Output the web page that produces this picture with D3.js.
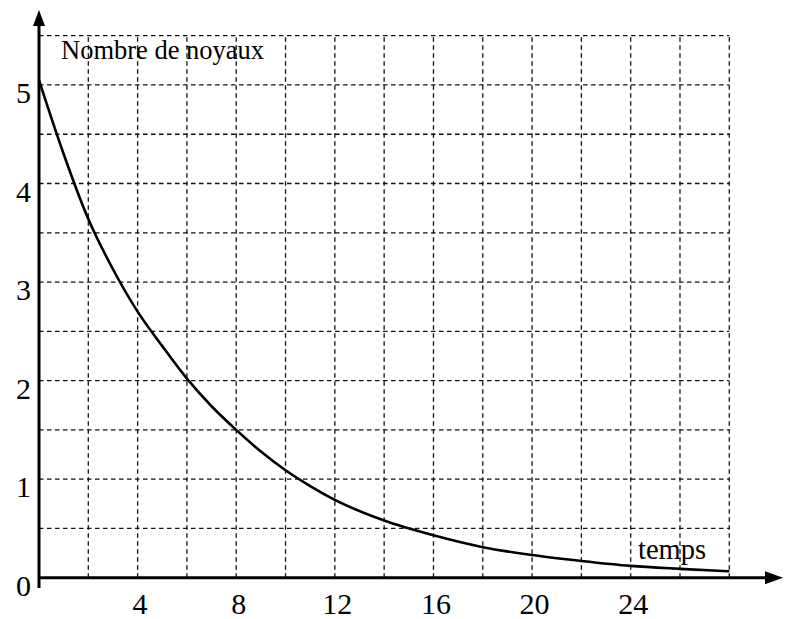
<!DOCTYPE html>
<html>
<head>
<meta charset="utf-8">
<script src="https://cdn.jsdelivr.net/npm/d3@7"></script>
<style>
  html, body { margin: 0; padding: 0; background: #fff; }
  svg { display: block; }
</style>
</head>
<body>
<svg id="chart" width="785" height="619"></svg>
<script>
// ---- data ----
const times  = [0, 1, 2, 3, 4, 5, 6, 7, 8, 9, 10, 11, 12, 14, 16, 18, 20, 22, 24, 26, 28];
const nuclei = [5.05, 4.3, 3.64, 3.13, 2.70, 2.35, 2.02, 1.74, 1.50, 1.28, 1.09, 0.93, 0.79, 0.58, 0.43, 0.31, 0.23, 0.17, 0.12, 0.09, 0.065];
const xTickLabels = [4, 8, 12, 16, 20, 24];
const yTickLabels = [0, 1, 2, 3, 4, 5];
const xGrid = [2, 4, 6, 8, 10, 12, 14, 16, 18, 20, 22, 24, 26, 28];
const yGrid = [0.5, 1, 1.5, 2, 2.5, 3, 3.5, 4, 4.5, 5, 5.5];
const yTitle = "Nombre de noyaux";
const xTitle = "temps";

const svg = d3.select("#chart");
const font = "'Liberation Serif', 'Times New Roman', serif";

const x = d3.scaleLinear().domain([0, 28]).range([39, 729.3]);
const y = d3.scaleLinear().domain([0, 5.5]).range([577.7, 35.7]);

// grid
const grid = svg.append("g")
  .attr("stroke", "#111")
  .attr("stroke-width", 1.3)
  .attr("stroke-dasharray", "4.5,3.5")
  .attr("fill", "none");
grid.selectAll("line.h").data(yGrid).join("line")
  .attr("class", "h")
  .attr("x1", x(0)).attr("x2", x(28))
  .attr("y1", d => y(d)).attr("y2", d => y(d));
grid.selectAll("line.v").data(xGrid).join("line")
  .attr("class", "v")
  .attr("x1", d => x(d)).attr("x2", d => x(d))
  .attr("y1", y(0)).attr("y2", y(5.5));

// titles
svg.append("text")
  .attr("x", 61).attr("y", 58.5)
  .attr("font-family", font).attr("font-size", 26.5)
  .attr("fill", "#000")
  .text(yTitle);
svg.append("text")
  .attr("x", 638).attr("y", 559)
  .attr("font-family", font).attr("font-size", 28.5)
  .attr("fill", "#000")
  .text(xTitle);

// curve
const line = d3.line()
  .x((d, i) => x(times[i]))
  .y(d => y(d))
  .curve(d3.curveMonotoneX);
svg.append("path")
  .datum(nuclei)
  .attr("d", line)
  .attr("fill", "none")
  .attr("stroke", "#000")
  .attr("stroke-width", 2.6);

// axes lines with arrows
const axes = svg.append("g");
axes.append("line")
  .attr("x1", x(0)).attr("x2", 767)
  .attr("y1", y(0)).attr("y2", y(0))
  .attr("stroke", "#000").attr("stroke-width", 3);
axes.append("path")
  .attr("d", `M${765},${y(0) - 6.5} L${783},${y(0)} L${765},${y(0) + 6.5} Z`)
  .attr("fill", "#000");
axes.append("line")
  .attr("x1", x(0)).attr("x2", x(0))
  .attr("y1", 588).attr("y2", 24)
  .attr("stroke", "#000").attr("stroke-width", 3);
axes.append("path")
  .attr("d", `M${x(0) - 6},${26} L${x(0)},${10} L${x(0) + 6},${26} Z`)
  .attr("fill", "#000");

// tick labels via axes
const xAxis = d3.axisBottom(x).tickValues(xTickLabels).tickSize(0).tickPadding(0).tickFormat(d3.format("d"));
const gx = svg.append("g").attr("transform", `translate(2,${y(0)})`).call(xAxis);
gx.select(".domain").remove();
gx.selectAll("text")
  .attr("y", 0).attr("dy", "36px")
  .attr("font-family", font).attr("font-size", 30).attr("fill", "#000");

const yAxis = d3.axisLeft(y).tickValues(yTickLabels).tickSize(0).tickPadding(0).tickFormat(d3.format("d"));
const gy = svg.append("g").attr("transform", `translate(31,0)`).call(yAxis);
gy.select(".domain").remove();
gy.selectAll("text")
  .attr("x", 0).attr("dy", "17.5px")
  .attr("font-family", font).attr("font-size", 30).attr("fill", "#000");
</script>
</body>
</html>
